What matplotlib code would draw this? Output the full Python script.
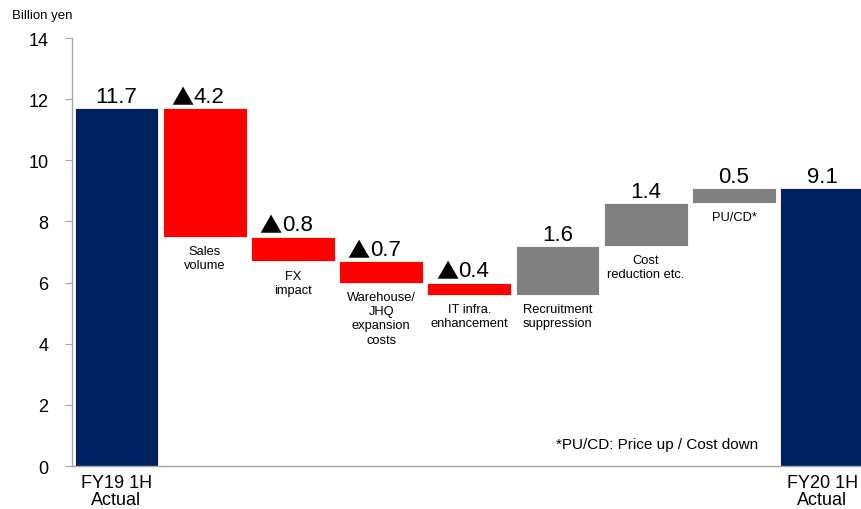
import numpy as np
import matplotlib
matplotlib.use("Agg")
import matplotlib.pyplot as plt

plt.rcParams['font.family'] = ['Liberation Sans', 'DejaVu Sans']

# data
start_val = 11.7
end_val = 9.1
deltas = [-4.2, -0.8, -0.7, -0.4, 1.6, 1.4, 0.5]
step_labels = ["Sales\nvolume", "FX\nimpact", "Warehouse/\nJHQ\nexpansion\ncosts",
               "IT infra.\nenhancement", "Recruitment\nsuppression",
               "Cost\nreduction etc.", "PU/CD*"]
value_texts = ["11.7", "▲4.2", "▲0.8", "▲0.7", "▲0.4", "1.6", "1.4", "0.5", "9.1"]
xtick_labels = ["FY19 1H\nActual", "", "", "", "", "", "", "", "FY20 1H\nActual"]
yticks = [0, 2, 4, 6, 8, 10, 12, 14]

navy = "#002060"
red = "#ff0000"
gray = "#808080"
axis_gray = "#a6a6a6"

fig = plt.figure(figsize=(8.61, 5.10), dpi=100)
ax = fig.add_axes([0.0836, 0.0843, 1 - 0.0836, 0.9235 - 0.0843])

n = len(deltas) + 2
x = np.arange(n)
w = 0.95

# waterfall bases
bottoms = [0]
heights = [start_val]
level = start_val
for d in deltas:
    new = level + d
    bottoms.append(min(level, new))
    heights.append(abs(d))
    level = new
bottoms.append(0)
heights.append(end_val)
colors = [navy] + [red if d < 0 else gray for d in deltas] + [navy]

ax.bar(x, heights, bottom=bottoms, width=w, color=colors,
       edgecolor="white", linewidth=0.6, zorder=2)

# value labels on top
for i in range(n):
    top = bottoms[i] + heights[i]
    txt = value_texts[i]
    if txt.startswith("▲"):
        # big triangle from the CJK font, number in Liberation Sans
        ax.annotate("▲", (x[i], top), xytext=(-8, 3),
                    textcoords="offset points", ha="right", va="baseline",
                    fontsize=16, family=["Noto Sans CJK JP"])
        ax.annotate(txt[1:], (x[i], top), xytext=(-8, 4.5),
                    textcoords="offset points", ha="left", va="baseline",
                    fontsize=16)
    else:
        ax.annotate(txt, (x[i], top), xytext=(0, 4.5),
                    textcoords="offset points", ha="center", va="baseline",
                    fontsize=16)

# step labels under each step bar
for i, lab in enumerate(step_labels):
    ax.annotate(lab, (x[i + 1], bottoms[i + 1]), xytext=(0, -6),
                textcoords="offset points", ha="center", va="top",
                fontsize=9.3, linespacing=1.25)

ax.text(7.27, 0.72, "*PU/CD: Price up / Cost down", ha="right", va="center",
        fontsize=11)

fig.text(0.014, 0.968, "Billion yen", ha="left", va="center", fontsize=9.5)

ax.set_xlim(-0.505, 8.44)
ax.set_ylim(0, 14)
ax.set_yticks(yticks)
ax.set_xticks(x)
ax.set_xticklabels(xtick_labels, fontsize=13, linespacing=0.98)
ax.tick_params(axis="x", length=0, pad=6)
ax.tick_params(axis="y", labelsize=13, length=5, color=axis_gray, pad=12)

for s in ["top", "right"]:
    ax.spines[s].set_visible(False)
for s in ["left", "bottom"]:
    ax.spines[s].set_color(axis_gray)
    ax.spines[s].set_linewidth(1.0)

fig.savefig("out.png", dpi=100)
